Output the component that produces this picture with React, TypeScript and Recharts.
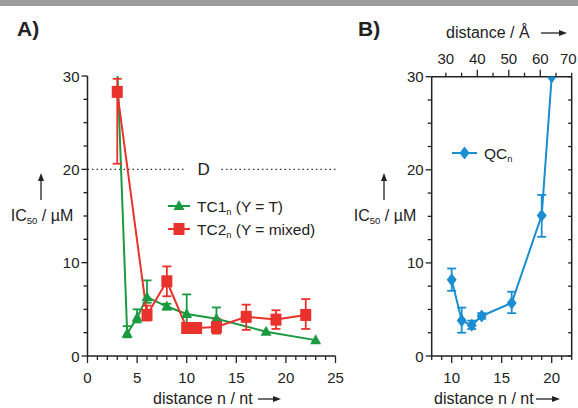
import React from 'react';
import {
  LineChart,
  Line,
  XAxis,
  YAxis,
  ErrorBar,
  ReferenceLine,
  ReferenceDot,
  Legend,
} from 'recharts';

// panel A: TC1n (Y = T) — first point runs off the top of the scale
const tc1N = [3, 4, 5, 6, 8, 10, 13, 18, 23];
const tc1Ic50 = [31, 2.4, 4.1, 6.3, 5.3, 4.5, 4.0, 2.6, 1.7];
const tc1Err = [null, [0.4, 0.8], [0.5, 0.9], [0.6, 1.8], [0.3, 0.3], [1.9, 2.1], [0.4, 1.2], null, null];

// panel A: TC2n (Y = mixed)
const tc2N = [3, 6, 8, 10, 11, 13, 16, 19, 22];
const tc2Ic50 = [28.3, 4.4, 8.0, 3.0, 3.0, 3.1, 4.2, 3.9, 4.4];
const tc2Err = [[7.7, 1.4], [0.6, 1.0], [1.6, 1.6], [0.3, 0.3], null, [0.7, 0.9], [1.4, 1.3], [1.0, 1.0], [1.5, 1.7]];

// panel B: QCn
const qcN = [10, 11, 12, 13, 16, 19, 20];
const qcIc50 = [8.2, 3.8, 3.3, 4.3, 5.7, 15.1, 30];
const qcErr = [[1.2, 1.2], [1.3, 1.4], [0.4, 0.5], [0.3, 0.3], [1.1, 1.2], [2.3, 2.2], null];

// ticks
const xTicksA = [0, 1, 2, 3, 4, 5, 6, 7, 8, 9, 10, 11, 12, 13, 14, 15, 16, 17, 18, 19, 20, 21, 22, 23, 24, 25];
const xMajorsA = [0, 5, 10, 15, 20, 25];
const xTicksB = [8, 9, 10, 11, 12, 13, 14, 15, 16, 17, 18, 19, 20, 21, 22];
const xMajorsB = [10, 15, 20];
const angTicks = [30, 35, 40, 45, 50, 55, 60, 65, 70];
const angMajors = [30, 40, 50, 60, 70];
const yTicks = [0, 2.5, 5, 7.5, 10, 12.5, 15, 17.5, 20, 22.5, 25, 27.5, 30];
const yMajors = [0, 10, 20, 30];

const GREEN = '#1a9a40';
const RED = '#e8322b';
const BLUE = '#1a8ed0';
const AXIS = '#222';
const FONT = '"Liberation Sans", Arial, sans-serif';

const rows = (xs: number[], ys: number[], errs: any[]) =>
  xs.map((n, i) => ({ n, ic50: ys[i], err: errs[i] }));

const tc1Rows = rows(tc1N, tc1Ic50, tc1Err);
const tc2Rows = rows(tc2N, tc2Ic50, tc2Err);
const qcRows = rows(qcN, qcIc50, qcErr);
// invisible helper so the Å axis and the right frame get a scale
const frameRows = angTicks.map((ang) => ({ ang, v: 0 }));

const axisStyle = { stroke: AXIS, strokeWidth: 1.5 };
const labelFont = { fontFamily: FONT, fontSize: 15, fill: AXIS };

const Marker = ({ shape, cx, cy, color }: any) => {
  if (shape === 'triangle')
    return <polygon points={`${cx},${cy - 6} ${cx - 5.5},${cy + 4} ${cx + 5.5},${cy + 4}`} fill={color} />;
  if (shape === 'square') return <rect x={cx - 5.5} y={cy - 6} width={11} height={12} fill={color} />;
  return <polygon points={`${cx},${cy - 6.5} ${cx + 5},${cy} ${cx},${cy + 6.5} ${cx - 5},${cy}`} fill={color} />;
};

const dotOf = (shape: string, color: string) => (p: any) =>
  <Marker key={`d-${p.index}`} shape={shape} cx={p.cx} cy={p.cy} color={color} />;

// custom ticks: tickSize/tickMargin are 0 so x/y sit on the axis line
const bottomTick = (majors: number[]) => (p: any) => {
  const v = p.payload.value;
  const major = majors.includes(v);
  return (
    <g>
      <line x1={p.x} x2={p.x} y1={p.y} y2={p.y + (major ? 7 : 4)} stroke={AXIS} strokeWidth={1.3} />
      {major && <text x={p.x} y={p.y + 27} textAnchor="middle" {...labelFont}>{v}</text>}
    </g>
  );
};

const topTick = (majors: number[]) => (p: any) => {
  const v = p.payload.value;
  const major = majors.includes(v);
  const last = v === angTicks[angTicks.length - 1];
  return (
    <g>
      <line x1={p.x} x2={p.x} y1={p.y} y2={p.y - (major && v !== 30 && !last ? 7 : 4)} stroke={AXIS} strokeWidth={1.3} />
      {major && (
        <text x={last ? p.x + 5 : p.x} y={p.y - 13} textAnchor={last ? 'end' : 'middle'} {...labelFont}>{v}</text>
      )}
    </g>
  );
};

const leftTick = (majors: number[]) => (p: any) => {
  const v = p.payload.value;
  const major = majors.includes(v);
  return (
    <g>
      <line x1={p.x} x2={p.x - (major ? 6 : 4)} y1={p.y} y2={p.y} stroke={AXIS} strokeWidth={1.3} />
      {major && <text x={p.x - 8} y={p.y + 5.5} textAnchor="end" {...labelFont}>{v}</text>}
    </g>
  );
};

const rightTick = (p: any) => (
  <line x1={p.x} x2={p.x - 3.5} y1={p.y} y2={p.y} stroke={AXIS} strokeWidth={1.3} />
);

const SubText = ({ x, y, main, sub, rest, size = 15 }: any) => (
  <text x={x} y={y} fontFamily={FONT} fontSize={size} fill={AXIS}>
    {main}
    <tspan fontSize={size * 0.6} dy={3}>{sub}</tspan>
    <tspan dy={-3}>{rest}</tspan>
  </text>
);

const LegendA = () => (
  <svg width={170} height={48}>
    <line x1={8} x2={30} y1={14} y2={14} stroke={GREEN} strokeWidth={2} />
    <Marker shape="triangle" cx={19} cy={14} color={GREEN} />
    <SubText x={37} y={19.5} main="TC1" sub="n" rest=" (Y = T)" size={15.5} />
    <line x1={8} x2={30} y1={37} y2={37} stroke={RED} strokeWidth={2} />
    <Marker shape="square" cx={19} cy={37} color={RED} />
    <SubText x={37} y={42.5} main="TC2" sub="n" rest=" (Y = mixed)" size={15.5} />
  </svg>
);

const LegendB = () => (
  <svg width={80} height={24}>
    <line x1={1} x2={26} y1={12} y2={12} stroke={BLUE} strokeWidth={2} />
    <Marker shape="diamond" cx={13.5} cy={12} color={BLUE} />
    <SubText x={33} y={17.5} main="QC" sub="n" rest="" size={15.5} />
  </svg>
);

const hArrow = (x1: number, x2: number, y: number) => (
  <g>
    <line x1={x1} x2={x2 - 5} y1={y} y2={y} stroke={AXIS} strokeWidth={1.3} />
    <polygon points={`${x2},${y} ${x2 - 8},${y - 3} ${x2 - 8},${y + 3}`} fill={AXIS} />
  </g>
);

const vArrow = (x: number, y1: number, y2: number) => (
  <g>
    <line x1={x} x2={x} y1={y1} y2={y2 + 5} stroke={AXIS} strokeWidth={1.3} />
    <polygon points={`${x},${y2} ${x - 3},${y2 + 8} ${x + 3},${y2 + 8}`} fill={AXIS} />
  </g>
);

const PanelA = () => (
  <div style={{ position: 'absolute', left: 0, top: 0 }}>
    <LineChart width={360} height={408} margin={{ top: 76, right: 24.5, bottom: 0, left: 0 }}>
      <XAxis
        xAxisId="n"
        type="number"
        dataKey="n"
        domain={[0, 25]}
        allowDataOverflow
        ticks={xTicksA}
        interval={0}
        height={52}
        tickSize={0}
        tickMargin={0}
        tickLine={false}
        axisLine={axisStyle}
        tick={bottomTick(xMajorsA)}
      />
      <YAxis
        yAxisId="ic"
        type="number"
        domain={[0, 30]}
        allowDataOverflow
        ticks={yTicks}
        interval={0}
        width={87.5}
        tickSize={0}
        tickMargin={0}
        tickLine={false}
        axisLine={axisStyle}
        tick={leftTick(yMajors)}
      />
      <ReferenceLine xAxisId="n" yAxisId="ic" segment={[{ x: 0, y: 20 }, { x: 9.9, y: 20 }]} stroke="#333" strokeWidth={1.3} strokeDasharray="1.5 3" />
      <ReferenceLine xAxisId="n" yAxisId="ic" segment={[{ x: 13.5, y: 20 }, { x: 25, y: 20 }]} stroke="#333" strokeWidth={1.3} strokeDasharray="1.5 3" />
      <ReferenceDot
        xAxisId="n"
        yAxisId="ic"
        x={11.7}
        y={20}
        r={1}
        fill="none"
        stroke="none"
        label={{ value: 'D', position: 'center', fill: AXIS, fontSize: 17, fontFamily: FONT }}
      />
      <Line
        xAxisId="n"
        yAxisId="ic"
        data={tc1Rows}
        dataKey="ic50"
        name="TC1n (Y = T)"
        stroke={GREEN}
        strokeWidth={2}
        dot={dotOf('triangle', GREEN)}
        isAnimationActive={false}
      >
        <ErrorBar dataKey="err" width={4.5} stroke={GREEN} strokeWidth={1.8} direction="y" />
      </Line>
      <Line
        xAxisId="n"
        yAxisId="ic"
        data={tc2Rows}
        dataKey="ic50"
        name="TC2n (Y = mixed)"
        stroke={RED}
        strokeWidth={2}
        dot={dotOf('square', RED)}
        isAnimationActive={false}
      >
        <ErrorBar dataKey="err" width={4.5} stroke={RED} strokeWidth={1.8} direction="y" />
      </Line>
      <Legend
        layout="vertical"
        align="center"
        verticalAlign="middle"
        wrapperStyle={{ position: 'absolute', left: 160, top: 192, width: 170, height: 48 }}
        content={() => <LegendA />}
      />
    </LineChart>
  </div>
);

const PanelB = () => (
  <div style={{ position: 'absolute', left: 340, top: 0 }}>
    <LineChart width={238} height={408} margin={{ top: 0, right: 0, bottom: 0, left: 0 }}>
      <XAxis
        xAxisId="n"
        type="number"
        dataKey="n"
        domain={[8, 22]}
        allowDataOverflow
        ticks={xTicksB}
        interval={0}
        height={52}
        tickSize={0}
        tickMargin={0}
        tickLine={false}
        axisLine={axisStyle}
        tick={bottomTick(xMajorsB)}
      />
      <XAxis
        xAxisId="ang"
        orientation="top"
        type="number"
        dataKey="ang"
        domain={[25.5, 70]}
        allowDataOverflow
        ticks={angTicks}
        interval={0}
        height={76.7}
        tickSize={0}
        tickMargin={0}
        tickLine={false}
        axisLine={axisStyle}
        tick={topTick(angMajors)}
      />
      <YAxis
        yAxisId="ic"
        type="number"
        domain={[0, 30]}
        allowDataOverflow
        ticks={yTicks}
        interval={0}
        width={91.7}
        tickSize={0}
        tickMargin={0}
        tickLine={false}
        axisLine={axisStyle}
        tick={leftTick(yMajors)}
      />
      <YAxis
        yAxisId="frame"
        orientation="right"
        type="number"
        domain={[0, 30]}
        allowDataOverflow
        ticks={yTicks}
        interval={0}
        width={6.3}
        tickSize={0}
        tickMargin={0}
        tickLine={false}
        axisLine={axisStyle}
        tick={rightTick}
      />
      <Line
        xAxisId="ang"
        yAxisId="frame"
        data={frameRows}
        dataKey="v"
        stroke="none"
        dot={false}
        activeDot={false}
        legendType="none"
        isAnimationActive={false}
      />
      <Line
        xAxisId="n"
        yAxisId="ic"
        data={qcRows}
        dataKey="ic50"
        name="QCn"
        stroke={BLUE}
        strokeWidth={2}
        dot={dotOf('diamond', BLUE)}
        isAnimationActive={false}
      >
        <ErrorBar dataKey="err" width={4.5} stroke={BLUE} strokeWidth={1.8} direction="y" />
      </Line>
      <Legend
        layout="vertical"
        align="center"
        verticalAlign="middle"
        wrapperStyle={{ position: 'absolute', left: 111, top: 141, width: 80, height: 24 }}
        content={() => <LegendB />}
      />
    </LineChart>
  </div>
);

export default function App() {
  return (
    <div style={{ position: 'absolute', left: 0, top: 0, width: 578, height: 408, background: '#fff', overflow: 'hidden' }}>
      <PanelA />
      <PanelB />
      <svg width={578} height={408} style={{ position: 'absolute', left: 0, top: 0, pointerEvents: 'none' }}>
        <rect x={0} y={0} width={578} height={6} fill="#9b9b9b" />
        <text x={17} y={35.5} fontFamily={FONT} fontSize={21} fontWeight="bold" fill={AXIS}>A)</text>
        <text x={358} y={35.5} fontFamily={FONT} fontSize={21} fontWeight="bold" fill={AXIS}>B)</text>

        <text x={446} y={38} fontFamily={FONT} fontSize={16} fill={AXIS}>distance / Å</text>
        {hArrow(541, 567, 33)}

        <text x={153} y={404} fontFamily={FONT} fontSize={16} fill={AXIS}>distance n / nt</text>
        {hArrow(258, 281, 399)}
        <text x={434} y={404} fontFamily={FONT} fontSize={16} fill={AXIS}>distance n / nt</text>
        {hArrow(536, 560, 399)}

        {vArrow(41, 200, 173)}
        <g textAnchor="middle">
          <SubText x={42} y={221} main="IC" sub="50" rest=" / µM" size={16} />
        </g>
        {vArrow(384, 200, 173)}
        <g textAnchor="middle">
          <SubText x={385} y={221} main="IC" sub="50" rest=" / µM" size={16} />
        </g>
      </svg>
    </div>
  );
}
